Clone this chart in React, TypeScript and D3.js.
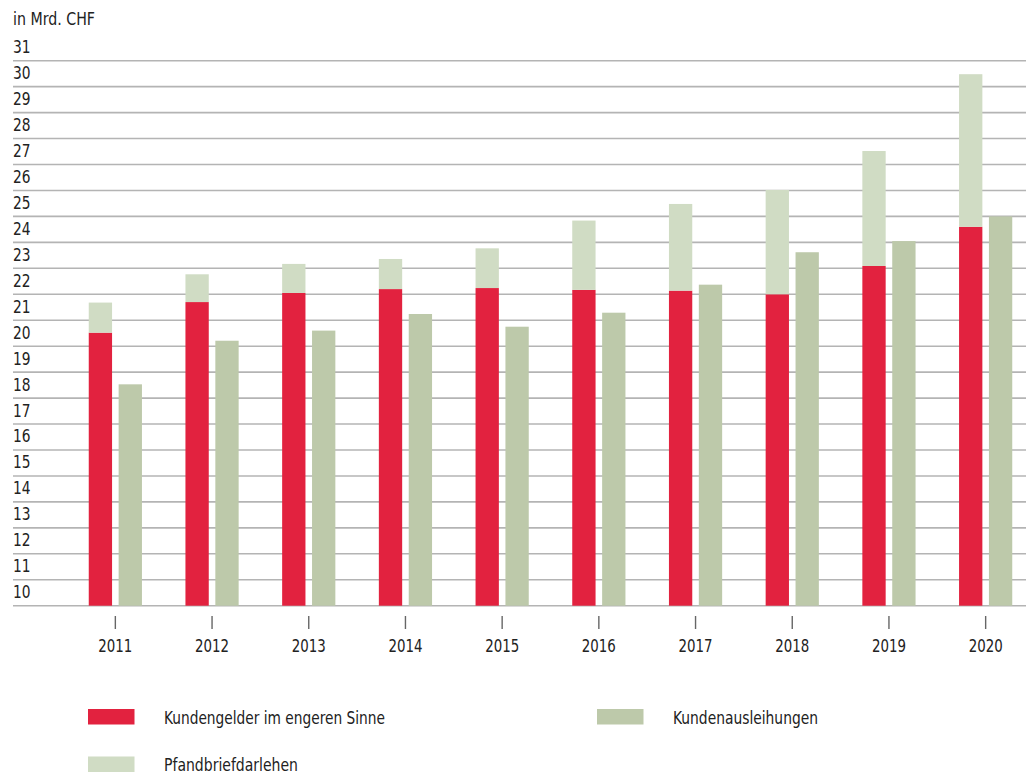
import React from "react";
import * as d3 from "d3";

const years = ["2011", "2012", "2013", "2014", "2015", "2016", "2017", "2018", "2019", "2020"];
// Kundengelder im engeren Sinne (bottom of stacked bar)
const kundengelder = [20.52, 21.7, 22.05, 22.2, 22.24, 22.17, 22.14, 22.0, 23.09, 24.6];
// Pfandbriefdarlehen (stacked on top)
const pfandbrief = [1.16, 1.07, 1.12, 1.16, 1.53, 2.67, 3.34, 4.02, 4.43, 5.88];
// Kundenausleihungen (separate bar)
const ausleihungen = [18.53, 20.21, 20.6, 21.24, 20.75, 21.29, 22.37, 23.62, 24.05, 25.0];
const yTicks = d3.range(10, 32);
const unitLabel = "in Mrd. CHF";
const legendItems = [
  { key: "kg", label: "Kundengelder im engeren Sinne" },
  { key: "ka", label: "Kundenausleihungen" },
  { key: "pf", label: "Pfandbriefdarlehen" },
];

const COLORS: Record<string, string> = {
  kg: "#e2223f",
  pf: "#d0dcc4",
  ka: "#bdc9aa",
};

const FONT = "'Liberation Sans Narrow', 'DejaVu Sans Condensed', 'Liberation Sans', sans-serif";
const LEGEND_W: Record<string, number> = { kg: 221, ka: 145, pf: 134 };

export default function App() {
  const W = 1026;
  const H = 778;
  const y = d3.scaleLinear().domain([10, 31]).range([605.7, 60.7]);
  const x = d3.scaleBand().domain(years).range([67, 1034]).padding(0);
  const sub = d3.scaleBand().domain(["kg", "ka"]).range([-26.6, 26.6]).paddingInner(0.22);
  const bw = sub.bandwidth();

  return (
    <svg
      width={W}
      height={H}
      style={{ position: "absolute", left: 0, top: 0, background: "#fff", fontFamily: FONT }}
    >
      <text x={13} y={25} fontSize={17} fill="#222" textLength={82} lengthAdjust="spacingAndGlyphs">
        {unitLabel}
      </text>
      {yTicks.map((t) => (
        <g key={t}>
          <line x1={13} x2={W} y1={y(t)} y2={y(t)} stroke="#b4b4b4" strokeWidth={1.6} />
          <text
            x={13}
            y={y(t) - 7.5}
            fontSize={17.5}
            fill="#222"
            textLength={17.5}
            lengthAdjust="spacingAndGlyphs"
          >
            {t}
          </text>
        </g>
      ))}
      {years.map((yr, i) => {
        const c = (x(yr) as number) + x.bandwidth() / 2;
        const xr = c + (sub("kg") as number);
        const xa = c + (sub("ka") as number);
        const top = kundengelder[i] + pfandbrief[i];
        return (
          <g key={yr}>
            <rect x={xr} width={bw} y={y(kundengelder[i])} height={y(10) - y(kundengelder[i])} fill={COLORS.kg} />
            <rect x={xr} width={bw} y={y(top)} height={y(kundengelder[i]) - y(top)} fill={COLORS.pf} />
            <rect x={xa} width={bw} y={y(ausleihungen[i])} height={y(10) - y(ausleihungen[i])} fill={COLORS.ka} />
            <line x1={c} x2={c} y1={616} y2={629} stroke="#666" strokeWidth={1.4} />
            <text
              x={c - 17}
              y={651.5}
              fontSize={18.5}
              fill="#222"
              textLength={34}
              lengthAdjust="spacingAndGlyphs"
            >
              {yr}
            </text>
          </g>
        );
      })}
      {legendItems.map((it, i) => {
        const col = i === 1 ? 1 : 0;
        const row = i === 2 ? 1 : 0;
        const sx = col === 0 ? 88 : 597;
        const sy = 709 + row * 47.5;
        return (
          <g key={it.key}>
            <rect x={sx} y={sy} width={46.5} height={15.5} fill={COLORS[it.key]} />
            <text
              x={sx + 76}
              y={sy + 14.5}
              fontSize={17}
              fill="#222"
              textLength={LEGEND_W[it.key]}
              lengthAdjust="spacingAndGlyphs"
            >
              {it.label}
            </text>
          </g>
        );
      })}
    </svg>
  );
}
